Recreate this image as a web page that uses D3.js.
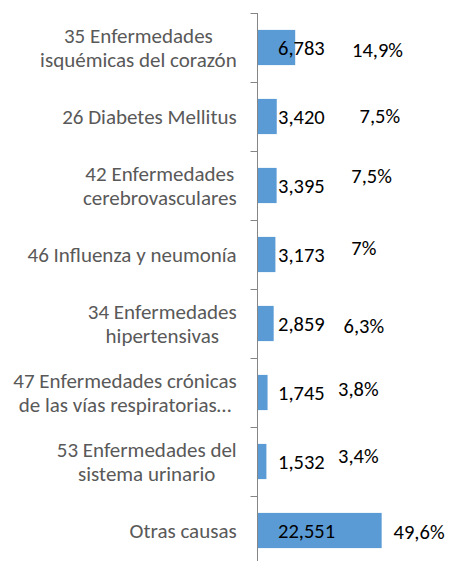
<!DOCTYPE html>
<html><head><meta charset="utf-8">
<script src="https://cdn.jsdelivr.net/npm/d3@7"></script>
<style>body{margin:0;background:#fff}</style>
</head><body>
<svg id="chart" width="450" height="561"></svg>
<script>
// ---- data ----
const categories = [
  "35 Enfermedades\nisquémicas del corazón",
  "26 Diabetes Mellitus",
  "42 Enfermedades\ncerebrovasculares",
  "46 Influenza y neumonía",
  "34 Enfermedades\nhipertensivas",
  "47 Enfermedades crónicas\nde las vías respiratorias…",
  "53 Enfermedades del\nsistema urinario",
  "Otras causas"
];
const values = [6783, 3420, 3395, 3173, 2859, 1745, 1532, 22551];
const percents = ["14,9%", "7,5%", "7,5%", "7%", "6,3%", "3,8%", "3,4%", "49,6%"];
// manual nudges of the percentage labels (as placed in the original)
const pctDx = [0, 7.5, -0.7, -0.7, -8.4, -14, -14, 41.6];
const pctDy = [2, -1, -9.4, -6.7, 2.3, -3.3, -5.7, 1.7];

// ---- layout ----
const W = 450, H = 561;
const svg = d3.select("#chart");
const axisX = 257.5;
const x = d3.scaleLinear().domain([0, 25000]).range([258, 258 + 137.1]);
const y = d3.scaleBand().domain(categories).range([13, 565]).paddingInner(0.49).paddingOuter(0.245);
const font = "Carlito, Calibri, 'Liberation Sans', sans-serif";

// bars
svg.selectAll("rect.bar").data(values).join("rect")
  .attr("class", "bar")
  .attr("x", x(0))
  .attr("y", (d, i) => y(categories[i]))
  .attr("width", d => x(d) - x(0))
  .attr("height", y.bandwidth())
  .attr("fill", "#5B9BD5");

// axis line and ticks
const step = y.step();
svg.append("line").attr("x1", axisX).attr("x2", axisX).attr("y1", 13).attr("y2", 565)
  .attr("stroke", "#868686").attr("stroke-width", 1);
d3.range(categories.length + 1).forEach(i => {
  const ty = Math.round(13 + i * step) + 0.5;
  svg.append("line").attr("x1", axisX - 7).attr("x2", axisX).attr("y1", ty).attr("y2", ty)
    .attr("stroke", "#868686").attr("stroke-width", 1);
});

// category labels
const labelRight = 236.7;
const lineH = 24.3;
categories.forEach((c, i) => {
  const lines = c.split("\n");
  const cy = y(c) + y.bandwidth() / 2;
  const g = svg.append("g");
  const texts = lines.map((ln, j) => g.append("text")
    .attr("y", cy + 7.5 + (j - (lines.length - 1) / 2) * lineH)
    .attr("text-anchor", "middle")
    .style("font-family", font).style("font-size", "21px").attr("fill", "#595959")
    .text(ln));
  const bw = d3.max(texts, t => t.node().getComputedTextLength());
  texts.forEach(t => t.attr("x", labelRight - bw / 2));
});

// value labels
svg.selectAll("text.val").data(values).join("text")
  .attr("class", "val")
  .attr("x", x(0) + 20)
  .attr("y", (d, i) => y(categories[i]) + y.bandwidth() / 2 + 7.2)
  .style("font-family", font).style("font-size", "20.5px").attr("fill", "#000")
  .text(d => d3.format(",")(d));

// percentage labels
svg.selectAll("text.pct").data(percents).join("text")
  .attr("class", "pct")
  .attr("x", (d, i) => x(0) + 94 + pctDx[i])
  .attr("y", (d, i) => y(categories[i]) + y.bandwidth() / 2 + 7.2 + pctDy[i])
  .style("font-family", font).style("font-size", "20.5px").attr("fill", "#000")
  .text(d => d);
</script>
</body></html>
